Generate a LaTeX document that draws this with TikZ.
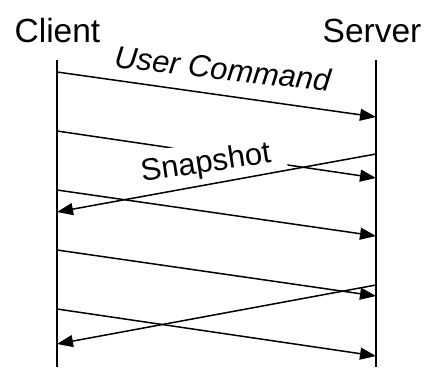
\documentclass[tikz,border=0pt]{standalone}
\usepackage{fontspec}
\setmainfont{Liberation Sans}
\usetikzlibrary{arrows.meta}
\begin{document}
\begin{tikzpicture}[x=1pt,y=-1pt,
  life/.style={line width=1.5pt},
  msg/.style={line width=1.5pt,-{Triangle[length=16pt,width=12pt]}},
  head/.style={font=\fontsize{33.5}{36}\selectfont, anchor=base, inner sep=0pt},
  lbl/.style={font=\fontsize{31}{34}\selectfont, anchor=base}]
\useasboundingbox (0,0) rectangle (427,374);
\node[head] (client) at (57.5,43) {Client};
\node[head] (server) at (372,43) {Server};
% lifelines
\coordinate (ctop) at (57,60);  \coordinate (cbot) at (57,367);
\coordinate (stop) at (376,60); \coordinate (sbot) at (376,367);
\draw[life] (ctop) -- (cbot);
\draw[life] (stop) -- (sbot);
% message end points
\coordinate (c1) at (57,72);   \coordinate (s1) at (376,117);
\coordinate (c2) at (57,131);  \coordinate (s2) at (376,178);
\coordinate (s3) at (376,154); \coordinate (c3) at (57,212);
\coordinate (c4) at (57,190);  \coordinate (s4) at (376,236);
\coordinate (c5) at (57,250);  \coordinate (s5) at (376,296);
\coordinate (s6) at (376,285); \coordinate (c6) at (57,344);
\coordinate (c7) at (57,309);  \coordinate (s7) at (376,356);
\draw[msg] (c1) -- node[lbl, pos=0.51, rotate=-6.5, yshift=15.5pt, inner sep=0pt,
  font=\fontsize{31}{34}\selectfont\itshape] (ucmd) {User Command} (s1);
\draw[msg] (c2) -- (s2);
\path (s3) -- node[lbl, pos=0.5235, rotate=8.6, yshift=12.4pt, fill=white,
  inner xsep=15pt, inner ysep=7pt, text depth=0pt] (snap) {Snapshot} (c3);
\draw[msg] (s3) -- (c3);
\draw[msg] (c4) -- (s4);
\draw[msg] (c5) -- (s5);
\draw[msg] (s6) -- (c6);
\draw[msg] (c7) -- (s7);
\end{tikzpicture}
\end{document}
